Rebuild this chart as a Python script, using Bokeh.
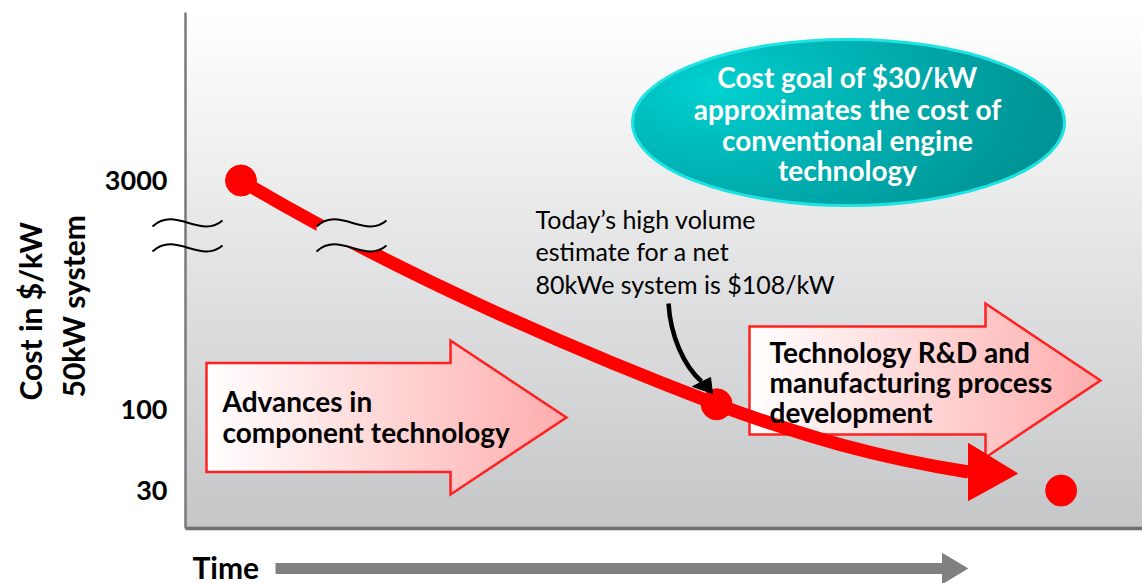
import numpy as np
from bokeh.plotting import figure
from bokeh.models import Range1d, FixedTicker, PrintfTickFormatter
from bokeh.core.properties import value
from bokeh.embed import file_html
from bokeh.resources import INLINE

# ---------------- data ----------------
time = [0.58, 5.55, 9.15]       # schematic time positions
cost = [3000, 108, 30]          # $/kW
tick_values = [30, 100, 3000]
tick_labels = ["30", "100", "3000"]
y_title = ["Cost in $/kW", "50kW system"]
x_title = "Time"
callout = ["Today\u2019s high volume", "estimate for a net", "80kWe system is $108/kW"]
goal_text = ["Cost goal of $30/kW", "approximates the cost of", "conventional engine", "technology"]
left_arrow_text = ["Advances in", "component technology"]
right_arrow_text = ["Technology R&D and", "manufacturing process", "development"]

# ---------------- layout helpers (page px -> data) ----------------
W, H = 1142, 583
FL, FR, FT, FB = 185, 1142, 12, 528
K, A = 155.0, 719.0
T_MAX = 10.0


def X(px):
    return (px - FL) / (FR - FL) * T_MAX


def Y(py):
    return 10 ** ((A - py) / K)


FONT = value("Lato")
RED = "#ff0000"

p = figure(width=W, height=H, y_axis_type="log",
           x_range=Range1d(0, T_MAX), y_range=Range1d(Y(FB), Y(FT)),
           min_border_left=FL, min_border_right=0, min_border_top=FT,
           min_border_bottom=H - FB,
           toolbar_location=None, output_backend="svg", outline_line_color=None,
           background_fill_color="white", border_fill_color="white")
p.grid.visible = False

yax = p.yaxis[0]
yax.ticker = FixedTicker(ticks=tick_values)
yax.formatter = PrintfTickFormatter(format="%d")
yax.major_label_overrides = {v: s for v, s in zip(tick_values, tick_labels)}
yax.axis_line_color = "#7a7a7a"
yax.axis_line_width = 2.5
yax.major_tick_line_color = None
yax.minor_tick_line_color = None
yax.major_tick_in = 0
yax.major_tick_out = 0
yax.major_label_standoff = 18
yax.major_label_text_font = "Lato"
yax.major_label_text_font_style = "bold"
yax.major_label_text_font_size = "27px"
yax.major_label_text_color = "black"

xax = p.xaxis[0]
xax.ticker = FixedTicker(ticks=[])
xax.axis_line_color = "#6f6f6f"
xax.axis_line_width = 3.5
xax.major_tick_line_color = None
xax.minor_tick_line_color = None


def bg_color(py):
    f = (py - FT) / (FB - FT)
    top = np.array([255, 255, 255]); bot = np.array([197, 198, 200])
    c = top + (bot - top) * f
    return "#%02x%02x%02x" % tuple(int(round(v)) for v in c)


def rgba_image(rgb, alpha):
    h, w = alpha.shape
    img = np.empty((h, w), dtype=np.uint32)
    v = img.view(np.uint8).reshape(h, w, 4)
    v[:, :, :3] = np.clip(np.round(rgb), 0, 255).astype(np.uint8)
    v[:, :, 3] = alpha.astype(np.uint8)
    return img[::-1]


def place_image(img_h, img_w, left, top, img):
    p.image_rgba(image=[img], x=X(left), y=Y(top + img_h),
                 dw=X(left + img_w) - X(left), dh=Y(top) - Y(top + img_h))


# ---- background gradient ----
n = FB - FT
f = (np.arange(n) + 0.5)[:, None, None] / n
top = np.array([255, 255, 255]); bot = np.array([197, 198, 200])
rgb = np.repeat(top + (bot - top) * f, 2, axis=1)
place_image(n, 2, FL, FT, rgba_image(rgb, np.full((n, 2), 255)))
p.renderers[-1].glyph.dw = T_MAX
p.renderers[-1].glyph.x = 0


# ---- pink block arrows ----
def block_arrow(x0, xh, xt, yc, bh, hh):
    w = int(round(xt - x0)) + 1
    h = int(round(2 * hh)) + 1
    xs = x0 + np.arange(w) + 0.5
    ys = (yc - hh) + np.arange(h) + 0.5
    XX, YY = np.meshgrid(xs, ys)
    dy = np.abs(YY - yc)
    inside = ((XX <= xh) & (dy <= bh)) | ((XX > xh) & (dy <= (xt - XX) / (xt - xh) * hh))
    fr = np.clip((XX - x0) / (xt - x0), 0, 1)
    rgb = np.zeros((h, w, 3))
    rgb[:, :, 0] = 255
    rgb[:, :, 1] = 255 - 82 * fr
    rgb[:, :, 2] = 255 - 82 * fr
    place_image(h, w, x0, yc - hh, rgba_image(rgb, inside * 255))
    pts = [(x0, yc - bh), (xh, yc - bh), (xh, yc - hh), (xt, yc), (xh, yc + hh), (xh, yc + bh), (x0, yc + bh)]
    p.patch([X(a) for a, b in pts], [Y(b) for a, b in pts], fill_alpha=0,
            line_color="#ff2020", line_width=2.5, line_join="miter")


block_arrow(206, 450, 566, 417, 54.5, 77)
block_arrow(749, 985, 1100, 380, 54, 77)

# ---- red cost curve ----
p.bezier(x0=[time[0], time[1]], y0=[cost[0], cost[1]],
         x1=[time[1], X(968)], y1=[cost[1], Y(471.5)],
         cx0=[X(392), X(806)], cy0=[Y(270), Y(437)],
         cx1=[X(566), X(878)], cy1=[Y(347), Y(457)],
         line_color=RED, line_width=13)
p.patch([X(968), X(968), X(1017)], [Y(443), Y(500), Y(473)], color=RED, line_width=1)
p.scatter(time, cost, size=31, color=RED)

# ---- block arrow texts (on top of curve) ----
p.text(x=[X(222)] * 2, y=[Y(400), Y(431)], text=left_arrow_text, text_font=FONT,
       text_font_style="bold", text_font_size="28px", text_baseline="middle",
       text_align="left", text_color="black")
p.text(x=[X(769)] * 3, y=[Y(351), Y(381), Y(411)], text=right_arrow_text, text_font=FONT,
       text_font_style="bold", text_font_size="28px", text_baseline="middle",
       text_align="left", text_color="black")

# ---- axis break squiggles ----
sq_bases = [(152, 226), (152, 251), (316, 226), (316, 251)]
shape = [(0, 0), (23, -21), (48, 13), (70, -6)]


def sq_pts(bx, by, m=30):
    t = np.linspace(0, 1, m)
    P = np.array(shape, dtype=float)
    B = ((1 - t) ** 3)[:, None] * P[0] + (3 * (1 - t) ** 2 * t)[:, None] * P[1] + \
        (3 * (1 - t) * t ** 2)[:, None] * P[2] + (t ** 3)[:, None] * P[3]
    return B[:, 0] + bx, B[:, 1] + by


ux, uy = sq_pts(316, 226)
lx, ly = sq_pts(316, 251)
cx = np.concatenate([ux, lx[::-1]]); cy = np.concatenate([uy, ly[::-1]])
p.patch([X(a) for a in cx], [Y(b) for b in cy], color=bg_color(238), line_width=0)

p.bezier(x0=[X(b[0]) for b in sq_bases], y0=[Y(b[1]) for b in sq_bases],
         x1=[X(b[0] + shape[3][0]) for b in sq_bases], y1=[Y(b[1] + shape[3][1]) for b in sq_bases],
         cx0=[X(b[0] + shape[1][0]) for b in sq_bases], cy0=[Y(b[1] + shape[1][1]) for b in sq_bases],
         cx1=[X(b[0] + shape[2][0]) for b in sq_bases], cy1=[Y(b[1] + shape[2][1]) for b in sq_bases],
         line_color="black", line_width=2, level="overlay")

# ---- callout ----
p.text(x=[X(535)] * 3, y=[Y(218), Y(250), Y(283)], text=callout, text_font=FONT,
       text_font_size="25px", text_baseline="middle", text_align="left", text_color="black")
p.bezier(x0=[X(668)], y0=[Y(303)], x1=[X(701)], y1=[Y(381)],
         cx0=[X(670)], cy0=[Y(335)], cx1=[X(683)], cy1=[Y(365)],
         line_color="black", line_width=4.5)
p.patch([X(692), X(710), X(712)], [Y(386), Y(377), Y(393)], color="black", line_width=1)

# ---- goal ellipse ----
ecx, ecy, ea, eb = 848, 122, 216, 83
w = 2 * ea + 1; h = 2 * eb + 1
xs = ecx - ea + np.arange(w) + 0.5
ys = ecy - eb + np.arange(h) + 0.5
XX, YY = np.meshgrid(xs, ys)
inside = ((XX - ecx) / ea) ** 2 + ((YY - ecy) / eb) ** 2 <= 1.0
d = np.clip(np.sqrt(((XX - 712) / 340) ** 2 + ((YY - 88) / 190) ** 2), 0, 1) ** 0.8
hl = np.array([0, 212, 212]); dk = np.array([0, 148, 150])
rgb = hl + (dk - hl) * d[:, :, None]
place_image(h, w, ecx - ea, ecy - eb, rgba_image(rgb, inside * 255))
p.ellipse(x=[X(ecx)], y=[Y(ecy)], width=2 * ea, height=2 * eb, width_units="screen",
          height_units="screen", fill_alpha=0, line_color="#1ee3e3", line_width=3)
p.text(x=[X(847)] * 4, y=[Y(76), Y(108), Y(139), Y(169)], text=goal_text, text_font=FONT,
       text_font_style="bold", text_font_size="28px", text_baseline="middle",
       text_align="center", text_color="white")

# ---- axis titles (outside frame) ----
p.text(x=[X(29), X(72)], y=[Y(400), Y(397)], text=y_title, angle=np.pi / 2, text_font=FONT,
       text_font_style="bold", text_font_size="30px", text_baseline="middle",
       text_align="left", text_color="black", level="overlay")
p.text(x=[X(192)], y=[Y(566)], text=[x_title], text_font=FONT, text_font_style="bold",
       text_font_size="30px", text_baseline="middle", text_align="left",
       text_color="black", level="overlay")
p.line(x=[X(275), X(943)], y=[Y(568), Y(568)], line_color="#808080", line_width=11,
       level="overlay")
p.patch([X(942), X(942), X(967)], [Y(553), Y(583), Y(568)], color="#808080",
        line_width=1, level="overlay")

open("out.html", "w").write(file_html(p, INLINE))
